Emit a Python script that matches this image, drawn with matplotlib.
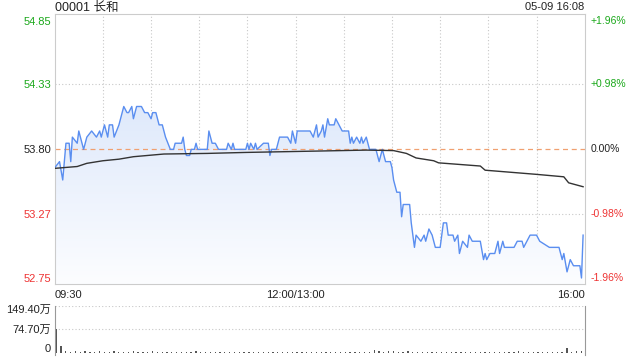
## ############################################################################################# ##
## 00001 长和 intraday chart (price + average + volume)
## ############################################################################################# ##
import numpy                   as     np
import matplotlib
matplotlib.use('Agg')
import matplotlib.pyplot       as     plt
import matplotlib.transforms   as     mtrans

plt.rcParams['font.family'] = ['Liberation Sans', 'Noto Sans CJK SC', 'DejaVu Sans']

## ********************************************************************************************* ##
## Data (minutes after 09:30, lunch break removed)
## ********************************************************************************************* ##
prevclose      = 53.80
title_txt      = '00001 长和'
stamp_txt      = '05-09 16:08'

price_t        = [0, 3, 5, 7, 9, 10, 11, 14, 15, 18, 20, 23, 26, 28, 29, 31, 33, 34, 36, 37,
                  40, 43, 45, 46, 48, 49, 51, 54, 56, 58, 60, 61, 63, 65, 67, 69, 72, 74, 75, 79,
                  80, 81, 82, 84, 85, 87, 88, 89, 95, 96, 98, 100, 102, 107, 108, 110, 111, 112, 119, 120,
                  121, 122, 124, 125, 126, 130, 133, 134, 135, 138, 140, 145, 147, 148, 150, 151, 159, 161, 163, 164,
                  166, 167, 168, 170, 171, 174, 175, 177, 179, 183, 184, 185, 186, 188, 190, 191, 192, 194, 195, 196,
                  200, 202, 204, 206, 209, 210, 211, 213, 215, 216, 217, 221, 222, 224, 225, 228, 230, 231, 232, 233,
                  235, 237, 240, 242, 244, 245, 248, 249, 251, 252, 254, 257, 258, 260, 265, 267, 268, 269, 271, 274,
                  276, 277, 279, 280, 286, 288, 291, 292, 294, 296, 300, 302, 308, 314, 316, 317, 319, 321, 323, 325,
                  327, 328, 329]
price_v        = [53.65, 53.70, 53.55, 53.85, 53.85, 53.70, 53.90, 53.85, 53.95, 53.80, 53.90, 53.95, 53.90, 53.95, 53.90, 54.00, 53.90, 54.00, 54.00, 53.90,
                  54.00, 54.15, 54.10, 54.10, 54.15, 54.05, 54.15, 54.15, 54.10, 54.10, 54.05, 54.10, 54.10, 54.00, 54.00, 53.90, 53.80, 53.80, 53.85, 53.85,
                  53.90, 53.80, 53.75, 53.75, 53.80, 53.80, 53.85, 53.80, 53.80, 53.95, 53.85, 53.85, 53.80, 53.80, 53.85, 53.80, 53.85, 53.80, 53.80, 53.85,
                  53.80, 53.85, 53.80, 53.85, 53.80, 53.85, 53.85, 53.75, 53.80, 53.80, 53.90, 53.90, 53.85, 53.95, 53.85, 53.95, 53.95, 53.90, 54.00, 53.90,
                  53.95, 54.00, 53.90, 54.05, 54.00, 54.00, 54.05, 54.00, 53.95, 53.95, 53.85, 53.90, 53.85, 53.90, 53.85, 53.90, 53.85, 53.90, 53.85, 53.80,
                  53.80, 53.70, 53.80, 53.70, 53.70, 53.65, 53.55, 53.45, 53.45, 53.25, 53.35, 53.35, 53.20, 53.00, 53.10, 53.05, 53.10, 53.05, 53.10, 53.15,
                  53.10, 53.00, 53.00, 53.20, 53.20, 53.10, 53.10, 53.05, 53.10, 52.95, 53.05, 53.00, 53.10, 53.05, 53.05, 52.90, 52.95, 52.90, 52.95, 52.95,
                  53.05, 52.95, 53.05, 53.00, 53.00, 53.05, 53.05, 53.00, 53.05, 53.10, 53.10, 53.05, 53.00, 53.00, 52.90, 52.95, 52.80, 52.90, 52.85, 52.85,
                  52.85, 52.75, 53.10]

avg_t          = [0, 14, 20, 30, 40, 49, 68, 95, 119, 163, 194, 211, 219, 225, 236, 239, 265, 268, 300, 317, 320, 329]
avg_v          = [53.645, 53.66, 53.686, 53.707, 53.72, 53.74, 53.762, 53.767, 53.775, 53.786, 53.794, 53.79, 53.767, 53.73,
                  53.707, 53.69, 53.664, 53.63, 53.596, 53.576, 53.527, 53.495]

## volume in 万 shares, one bar every 3 minutes
vol_t          = list(range(0, 331, 3))
vol_v          = [76, 22, 5, 4, 6, 3, 5, 4, 3, 6,
                  4, 3, 5, 4, 3, 4, 5, 3, 4, 3,
                  5, 3, 4, 3, 4, 3, 3, 4, 3, 5,
                  3, 4, 3, 3, 4, 3, 3, 4, 3, 3,
                  4, 3, 3, 4, 3, 3, 4, 3, 3, 4,
                  3, 3, 4, 3, 3, 4, 3, 3, 4, 3,
                  3, 4, 3, 3, 4, 3, 8, 6, 4, 5,
                  5, 4, 3, 5, 4, 3, 4, 3, 4, 3,
                  4, 3, 3, 4, 3, 4, 3, 3, 4, 3,
                  3, 4, 3, 3, 4, 3, 6, 3, 4, 3,
                  3, 4, 3, 3, 4, 3, 15, 4, 5, 6,
                  7]

ptick_v        = [52.75, 53.27, 53.80, 54.33, 54.85]
ptick_lbl      = ['52.75', '53.27', '53.80', '54.33', '54.85']
pct_lbl        = ['-1.96%', '-0.98%', '0.00%', '+0.98%', '+1.96%']
tick_col       = ['#ee3333', '#ee3333', '#222222', '#1aa81a', '#1aa81a']
xtick_v        = [0, 150, 330]
xtick_lbl      = ['09:30', '12:00/13:00', '16:00']
vtick_v        = [0, 74.70, 149.40]
vtick_lbl      = ['0', '74.70万', '149.40万']

## ********************************************************************************************* ##
## Figure
## ********************************************************************************************* ##
W, H           = 640, 360
fig            = plt.figure(figsize=(W/100, H/100), dpi=100)
x0, x1         = 54.7/W, 584.7/W
ax             = fig.add_axes([x0, 1-284/H, x1-x0, 270/H])
axv            = fig.add_axes([x0, 1-355/H, x1-x0, 49.3/H])

ymin, ymax     = 52.701, 54.905
grid_kw        = dict(color='#c8c8c8', lw=0.8, ls=(0, (1, 2)))

## price panel
## =========================================== ##
for m in range(30, 330, 30):
    ax.axvline(m, zorder=0, **grid_kw)
for p in [53.27, 54.33]:
    ax.axhline(p, zorder=0, **grid_kw)
ax.axhline(prevclose, color='#f0a070', lw=0.9, ls=(0, (4, 3)), zorder=2)

poly           = ax.fill_between(price_t, price_v, ymin, color='none', lw=0)
top_c          = np.array([208, 223, 249]) / 255.
bot_c          = np.array([252, 253, 255]) / 255.
frac           = np.linspace(0, 1, 256)[:, None]
grad           = (top_c[None, :] * (1-frac) + bot_c[None, :] * frac)[:, None, :]
img            = ax.imshow(grad, extent=[0, 330, ymin, ymax], aspect='auto', origin='upper', zorder=1)
img.set_clip_path(poly.get_paths()[0], transform=ax.transData)

ax.plot(price_t, price_v, color='#5a8ef0', lw=1.0, zorder=3)
ax.plot(avg_t, avg_v, color='#333333', lw=1.0, zorder=3)

ax.set_xlim(0, 330)
ax.set_ylim(ymin, ymax)
for s in ax.spines.values():
    s.set_color('#cccccc')
    s.set_linewidth(0.8)

ax.set_yticks(ptick_v)
ax.set_yticklabels(ptick_lbl)
ax.tick_params(axis='y', length=0, pad=2.5, labelsize=8)
for lbl, c in zip(ax.get_yticklabels(), tick_col):
    lbl.set_color(c)

ax.set_xticks(xtick_v)
ax.set_xticklabels(xtick_lbl)
ax.tick_params(axis='x', length=0, pad=4, labelsize=8, labelcolor='#222222')
xl             = ax.get_xticklabels()
xl[0].set_horizontalalignment('left')
xl[-1].set_horizontalalignment('right')

## percent labels on the right side
ytrans         = ax.get_yaxis_transform() + mtrans.ScaledTranslation(6/100., 0, fig.dpi_scale_trans)
for p, lbl, c in zip(ptick_v, pct_lbl, tick_col):
    ax.text(1.0, p, lbl, transform=ytrans, color=c, fontsize=7.5, ha='left', va='center')

ax.text(552, 52.735, 'sina.com', color='#cccccc', fontsize=8.5, ha='center', va='center', zorder=4)
fig.text(x0+0.001, 1-7.5/H, title_txt, fontsize=9, color='#222222', ha='left', va='center')
fig.text(x1, 1-7.5/H, stamp_txt, fontsize=8, color='#222222', ha='right', va='center')

## volume panel
## =========================================== ##
axv.bar(np.array(vol_t) + 0.5, vol_v, width=0.8, align='edge', color='#555555', zorder=2)
axv.set_xlim(0, 330)
axv.set_ylim(-6.6, 149.4)
for p in [74.70, 149.40]:
    axv.axhline(p, zorder=0, **grid_kw)
for k in ['top', 'bottom']:
    axv.spines[k].set_visible(False)
for k in ['left', 'right']:
    axv.spines[k].set_color('#999999')
    axv.spines[k].set_linewidth(0.8)
axv.set_xticks([])
axv.set_yticks(vtick_v)
axv.set_yticklabels(vtick_lbl)
axv.tick_params(axis='y', length=0, pad=2.5, labelsize=8, labelcolor='#222222')
shift          = [4.5, 0.5, -3]
for lbl, d in zip(axv.get_yticklabels(), shift):
    lbl.set_transform(lbl.get_transform() + mtrans.ScaledTranslation(0, d/100., fig.dpi_scale_trans))

fig.savefig('out.png', dpi=100)
